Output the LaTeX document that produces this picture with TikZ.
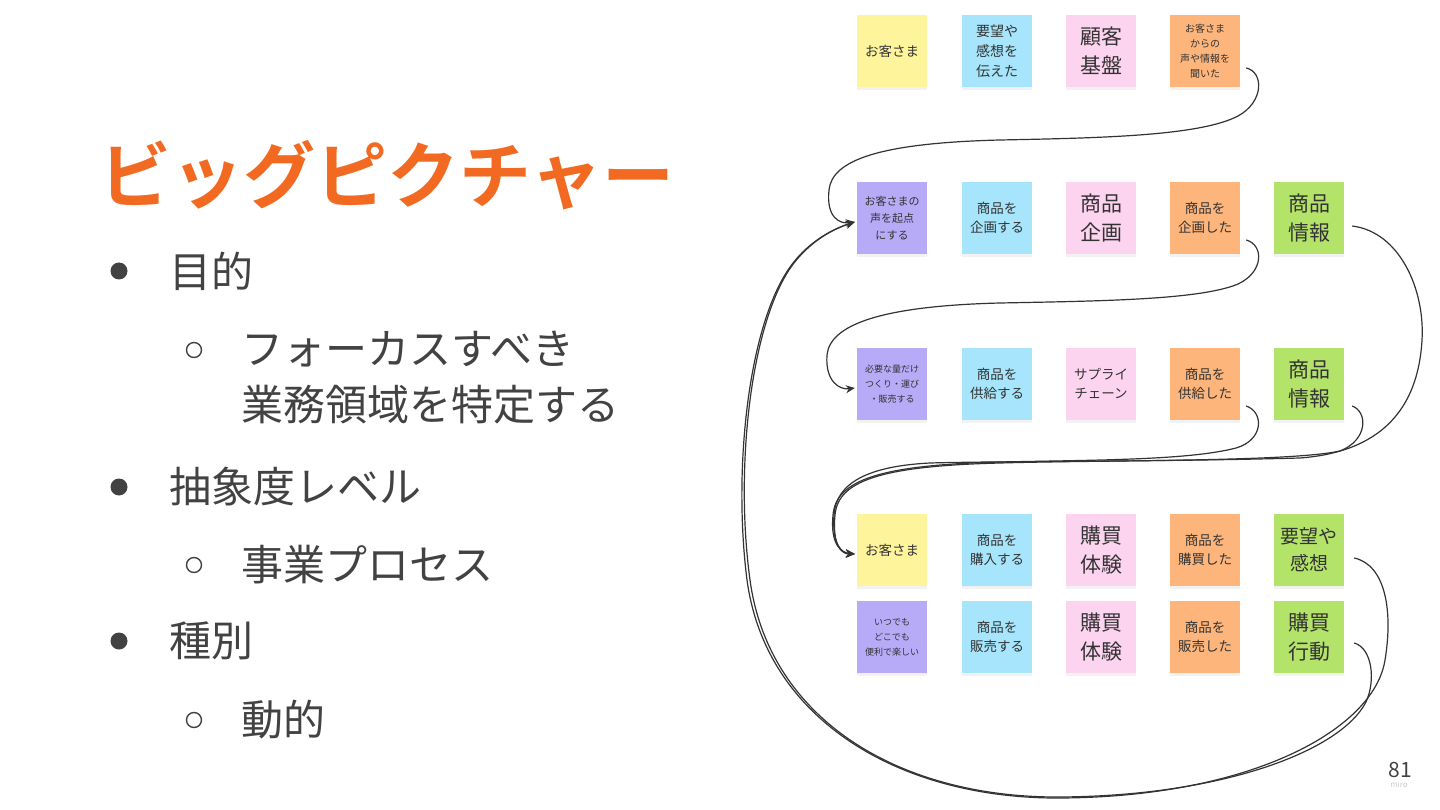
\documentclass[tikz,border=0pt]{standalone}
\usepackage{fontspec}
\setmainfont{Noto Sans CJK JP}[BoldFont={Noto Sans CJK JP Bold}]
\usetikzlibrary{calc,shadows,arrows.meta}
\definecolor{titleorange}{HTML}{F26A21}
\definecolor{bodytext}{HTML}{424242}
\definecolor{notetext}{HTML}{333333}
\definecolor{linegray}{HTML}{333333}
\definecolor{ylw}{HTML}{FEF49C}
\definecolor{blu}{HTML}{A6E5FB}
\definecolor{pnk}{HTML}{FDD4F0}
\definecolor{org}{HTML}{FDB57B}
\definecolor{grn}{HTML}{B4E36A}
\definecolor{ppl}{HTML}{B7AAF7}
\begin{document}
\begin{tikzpicture}[>={Stealth[length=9pt,width=8pt]}, x=1pt, y=-1pt,
    sticky/.style={minimum width=70pt, minimum height=72pt, inner sep=1pt, align=center, text=notetext,
        drop shadow={shadow xshift=0pt, shadow yshift=-3pt, opacity=0.10}},
    note/.style={font=\fontsize{13.5}{19}\selectfont},
    mid/.style={font=\fontsize{14}{20}\selectfont},
    big/.style={font=\fontsize{21}{29}\selectfont},
    small/.style={font=\fontsize{11}{17}\selectfont},
    tiny/.style={font=\fontsize{10}{15}\selectfont},
    micro/.style={font=\fontsize{9}{15}\selectfont},
    item/.style={anchor=west, text=bodytext, font=\fontsize{42}{56}\selectfont},
    dot/.style={circle, fill=bodytext, minimum size=17pt, inner sep=0pt},
    ring/.style={circle, draw=bodytext, line width=1.4pt, minimum size=15pt, inner sep=0pt},
    flow/.style={->, draw=linegray, line width=1.2pt}]
  \useasboundingbox[fill=white] (0,0) rectangle (1440,810);

  % left: title and list
  \node[anchor=west, text=titleorange, font=\bfseries\fontsize{72}{80}\selectfont] (title) at (96,175) {ビッグピクチャー};
  \node[dot] (b1) at (119,271) {};
  \node[item] (t1) at (166,271) {目的};
  \node[ring] (o1) at (194,350) {};
  \node[item, align=left] (t2) at (238,378) {フォーカスすべき\\業務領域を特定する};
  \node[dot] (b2) at (119,487) {};
  \node[item] (t3) at (166,487) {抽象度レベル};
  \node[ring] (o2) at (194,565) {};
  \node[item] (t4) at (238,565) {事業プロセス};
  \node[dot] (b3) at (119,641) {};
  \node[item] (t5) at (166,641) {種別};
  \node[ring] (o3) at (194,720) {};
  \node[item] (t6) at (238,720) {動的};

  % stickies
  \node[sticky, fill=ylw, note] (s11) at (892,51) {お客さま};
  \node[sticky, fill=blu, mid] (s12) at (997,51) {要望や\\感想を\\伝えた};
  \node[sticky, fill=pnk, big] (s13) at (1101,51) {顧客\\基盤};
  \node[sticky, fill=org, tiny] (s14) at (1205,51) {お客さま\\からの\\声や情報を\\聞いた};

  \node[sticky, fill=ppl, small] (s21) at (892,218) {お客さまの\\声を起点\\にする};
  \node[sticky, fill=blu, note] (s22) at (997,218) {商品を\\企画する};
  \node[sticky, fill=pnk, big] (s23) at (1101,218) {商品\\企画};
  \node[sticky, fill=org, note] (s24) at (1205,218) {商品を\\企画した};
  \node[sticky, fill=grn, big] (s25) at (1309,218) {商品\\情報};

  \node[sticky, fill=ppl, micro] (s31) at (892,384) {必要な量だけ\\つくり・運び\\・販売する};
  \node[sticky, fill=blu, note] (s32) at (997,384) {商品を\\供給する};
  \node[sticky, fill=pnk, note] (s33) at (1101,384) {サプライ\\チェーン};
  \node[sticky, fill=org, note] (s34) at (1205,384) {商品を\\供給した};
  \node[sticky, fill=grn, big] (s35) at (1309,384) {商品\\情報};

  \node[sticky, fill=ylw, note] (s41) at (892,550) {お客さま};
  \node[sticky, fill=blu, note] (s42) at (997,550) {商品を\\購入する};
  \node[sticky, fill=pnk, big] (s43) at (1101,550) {購買\\体験};
  \node[sticky, fill=org, note] (s44) at (1205,550) {商品を\\購買した};
  \node[sticky, fill=grn, font=\fontsize{19}{27}\selectfont] (s45) at (1309,550) {要望や\\感想};

  \node[sticky, fill=ppl, micro] (s51) at (892,637) {いつでも\\どこでも\\便利で楽しい};
  \node[sticky, fill=blu, note] (s52) at (997,637) {商品を\\販売する};
  \node[sticky, fill=pnk, big] (s53) at (1101,637) {購買\\体験};
  \node[sticky, fill=org, note] (s54) at (1205,637) {商品を\\販売した};
  \node[sticky, fill=grn, big] (s55) at (1309,637) {購買\\行動};

  % flow lines
  \draw[flow] ($(s14.east)+(6,17)$) .. controls (1264,72) and (1264,102) .. (1238,116) .. controls (1200,136) and (1100,138) .. (1000,140) .. controls (880,143) and (832,160) .. (829,190) .. controls (826,218) and (840,224) .. ($(s21.west)+(-2,4)$);
  \draw[flow] ($(s24.east)+(6,22)$) .. controls (1264,245) and (1264,272) .. (1238,284) .. controls (1200,300) and (1100,301) .. (1000,303) .. controls (880,306) and (830,325) .. (827,355) .. controls (825,382) and (840,390) .. ($(s31.west)+(-2,4)$);
  \draw[flow] ($(s25.east)+(8,8)$) .. controls (1400,232) and (1425,290) .. (1422,340) .. controls (1418,410) and (1380,452) .. (1300,458) .. controls (1150,462) and (1000,461) .. (930,463) .. controls (870,466) and (836,482) .. (834,515) .. controls (832,546) and (842,554) .. ($(s41.west)+(-2,4)$);
  \draw[flow] ($(s34.east)+(6,22)$) .. controls (1264,412) and (1264,440) .. (1236,448) .. controls (1190,460) and (1100,460) .. (1000,462) .. controls (880,465) and (836,480) .. (833,515) .. controls (830,545) and (842,553) .. ($(s41.west)+(-2,4)$);
  \draw[flow] ($(s35.east)+(8,22)$) .. controls (1368,412) and (1368,440) .. (1340,451) .. controls (1290,462) and (1100,460) .. (1000,463) .. controls (880,466) and (838,481) .. (835,515) .. controls (832,546) and (842,553) .. ($(s41.west)+(-2,4)$);
  \draw[flow] ($(s45.east)+(10,8)$) .. controls (1386,565) and (1393,612) .. (1385,660) .. controls (1374,730) and (1250,797) .. (1060,798) .. controls (900,799) and (766,720) .. (747,580) .. controls (733,470) and (748,330) .. (788,270) .. controls (808,240) and (836,228) .. ($(s21.west)+(-2,4)$);
  \draw[flow] ($(s55.east)+(10,6)$) .. controls (1372,648) and (1376,680) .. (1366,702) .. controls (1340,752) and (1220,796) .. (1060,797) .. controls (900,798) and (769,720) .. (750,580) .. controls (735,470) and (750,330) .. (789,270) .. controls (809,240) and (836,228) .. ($(s21.west)+(-2,4)$);

  % page number
  \node[text=bodytext, font=\fontsize{21}{24}\selectfont] (page) at (1400,770) {81};
  \node[text=black!20, font=\fontsize{8}{9}\selectfont] (miro) at (1399,784) {miro};
\end{tikzpicture}
\end{document}
